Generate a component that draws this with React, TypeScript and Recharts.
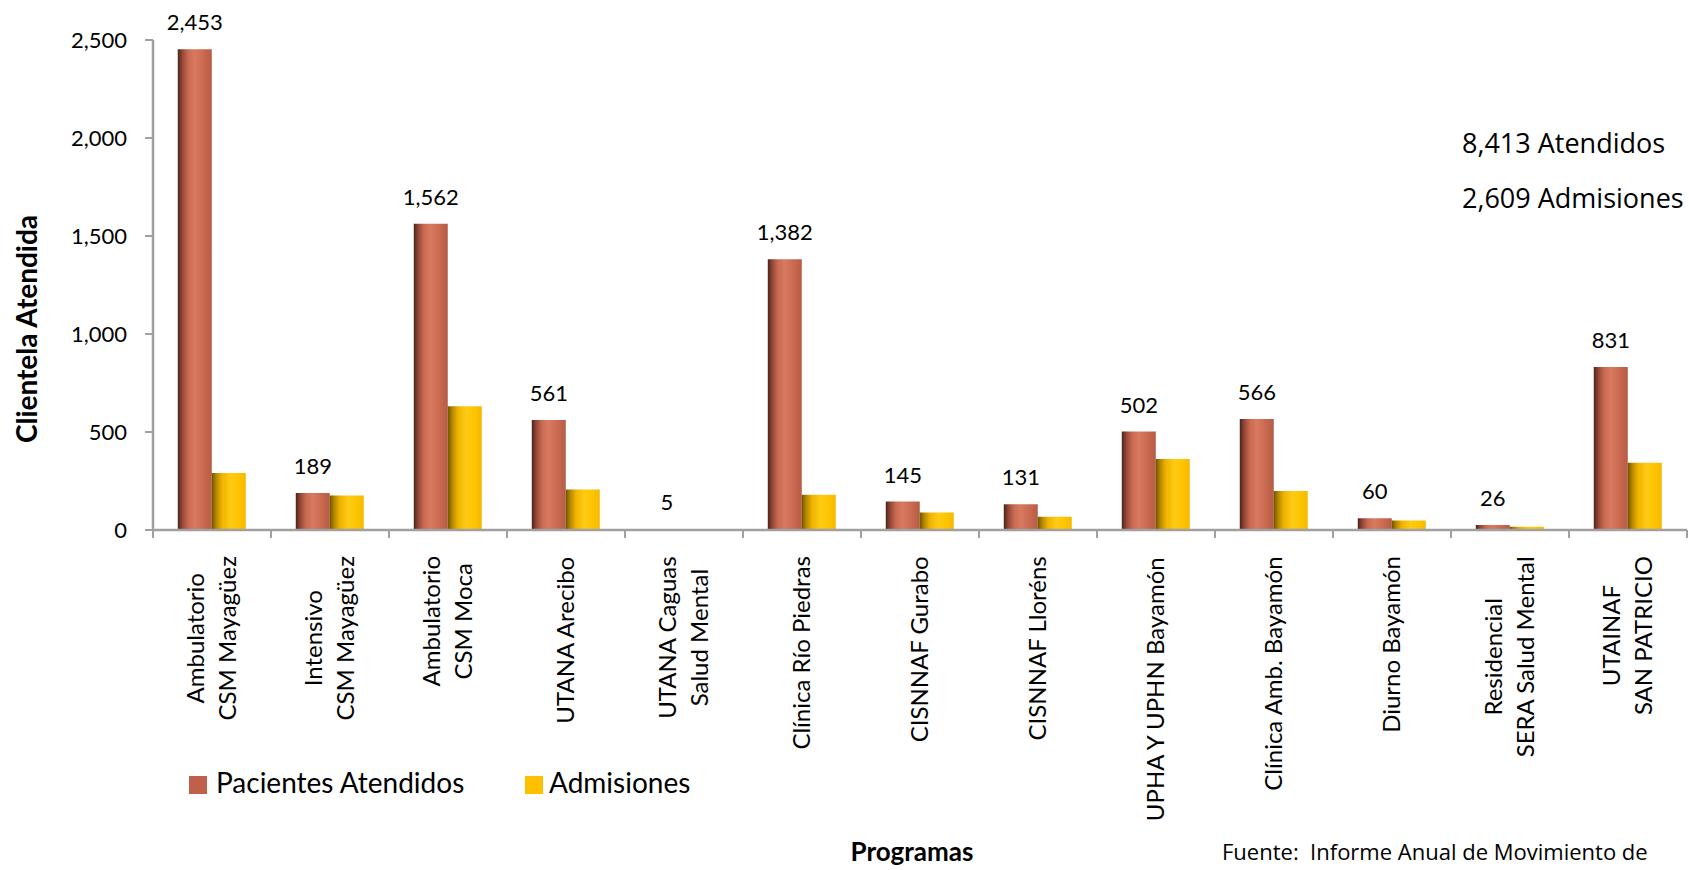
import React from "react";
import { BarChart, Bar, XAxis, YAxis, LabelList } from "recharts";

const categories = [
  "Ambulatorio\nCSM Mayagüez",
  "Intensivo\nCSM Mayagüez",
  "Ambulatorio\nCSM Moca",
  "UTANA Arecibo",
  "UTANA Caguas\nSalud Mental",
  "Clínica Río Piedras",
  "CISNNAF Gurabo",
  "CISNNAF Lloréns",
  "UPHA Y UPHN Bayamón",
  "Clínica Amb. Bayamón",
  "Diurno Bayamón",
  "Residencial\nSERA Salud Mental",
  "UTAINAF\nSAN PATRICIO",
];

const pacientes = [2453, 189, 1562, 561, 5, 1382, 145, 131, 502, 566, 60, 26, 831];
const admisiones = [291, 176, 632, 206, 0, 180, 89, 67, 362, 199, 48, 16, 343];
const yTicks = [0, 500, 1000, 1500, 2000, 2500];

const seriesNames = ["Pacientes Atendidos", "Admisiones"];
const totals = ["8,413 Atendidos", "2,609 Admisiones"];

const data = categories.map((name, i) => ({
  name,
  pacientes: pacientes[i],
  admisiones: admisiones[i],
}));

const W = 1689;
const H = 870;
const AXIS = "#a0a0a0";
const PAC = "#c0604a";
const ADM = "#ffc000";
const LABEL_FONT = 24;

let ctx: CanvasRenderingContext2D | null = null;
const measure = (s: string) => {
  if (!ctx) ctx = document.createElement("canvas").getContext("2d");
  if (!ctx) return s.length * LABEL_FONT * 0.5;
  ctx.font = `${LABEL_FONT}px Lato`;
  return ctx.measureText(s).width;
};

const fmt = (v: number) => v.toLocaleString("en-US");

const CategoryTick = ({ x, y, payload, index }: any) => {
  const lines = String(payload.value).split("\n");
  const half = payload.offset || (W - 155) / categories.length / 2;
  const maxW = Math.max(...lines.map(measure));
  const cy = y + 26 + maxW / 2;
  const last = index === categories.length - 1;
  return (
    <g>
      <line x1={x - half} x2={x - half} y1={y} y2={y + 8} stroke={AXIS} strokeWidth={2} />
      {last && <line x1={x + half} x2={x + half} y1={y} y2={y + 8} stroke={AXIS} strokeWidth={2} />}
      {lines.map((ln, i) => {
        const bx = x + (i - (lines.length - 1) / 2) * 32 + 8;
        return (
          <text
            key={i}
            x={bx}
            y={cy}
            transform={`rotate(-90 ${bx} ${cy})`}
            textAnchor="middle"
            fontFamily="Lato"
            fontSize={LABEL_FONT}
            fill="#000"
          >
            {ln}
          </text>
        );
      })}
    </g>
  );
};

const ValueLabel = ({ x, y, width, value }: any) => (
  <text x={x + width / 2} y={y - 19} textAnchor="middle" fontFamily="Lato" fontSize={22} fill="#000">
    {fmt(value)}
  </text>
);

export default function App() {
  return (
    <div style={{ position: "absolute", left: 0, top: 0, width: W, height: H, background: "#fff" }}>
      <BarChart
        width={W}
        height={H}
        data={data}
        margin={{ top: 40, right: 2, bottom: 0, left: 0 }}
        barCategoryGap="21%"
        barGap={0}
      >
        <defs>
          <linearGradient id="gPac" x1="0" y1="0" x2="1" y2="0">
            <stop offset="0%" stopColor="#4b2219" />
            <stop offset="12%" stopColor="#8f4434" />
            <stop offset="30%" stopColor="#c96a52" />
            <stop offset="50%" stopColor="#d87a60" />
            <stop offset="78%" stopColor="#c8684f" />
            <stop offset="100%" stopColor="#b55c46" />
          </linearGradient>
          <linearGradient id="gAdm" x1="0" y1="0" x2="1" y2="0">
            <stop offset="0%" stopColor="#6e5200" />
            <stop offset="12%" stopColor="#b08400" />
            <stop offset="30%" stopColor="#f0b400" />
            <stop offset="55%" stopColor="#ffcb14" />
            <stop offset="80%" stopColor="#ffc400" />
            <stop offset="100%" stopColor="#f5b800" />
          </linearGradient>
        </defs>
        <XAxis
          dataKey="name"
          interval={0}
          height={H - 530}
          tickSize={0}
          tickMargin={0}
          tickLine={false}
          axisLine={{ stroke: AXIS, strokeWidth: 2.5 }}
          tick={<CategoryTick />}
        />
        <YAxis
          width={153}
          domain={[0, 2500]}
          ticks={yTicks}
          interval={0}
          tickSize={8}
          tickMargin={18}
          tickFormatter={fmt}
          axisLine={{ stroke: AXIS, strokeWidth: 2.5 }}
          tickLine={{ stroke: AXIS, strokeWidth: 2 }}
          tick={{ fill: "#000", fontFamily: "Lato", fontSize: 22 }}
        />
        <Bar dataKey="pacientes" name={seriesNames[0]} fill="url(#gPac)" isAnimationActive={false}>
          <LabelList dataKey="pacientes" content={<ValueLabel />} />
        </Bar>
        <Bar dataKey="admisiones" name={seriesNames[1]} fill="url(#gAdm)" isAnimationActive={false} />
      </BarChart>

      {/* titles, totals and legend drawn on top */}
      <svg
        width={W}
        height={H}
        style={{ position: "absolute", left: 0, top: 0, pointerEvents: "none" }}
      >
        <text
          x={37}
          y={329}
          transform="rotate(-90 37 329)"
          textAnchor="middle"
          fontFamily="Lato"
          fontWeight="bold"
          fontSize={28}
          fill="#000"
        >
          Clientela Atendida
        </text>
        <text x={912} y={861} textAnchor="middle" fontFamily="Lato" fontWeight="bold" fontSize={26} fill="#000">
          Programas
        </text>
        <text x={1462} y={153} fontFamily="Open Sans" fontSize={27} fill="#000">
          {totals[0]}
        </text>
        <text x={1462} y={208} fontFamily="Open Sans" fontSize={27} fill="#000">
          {totals[1]}
        </text>
        <text x={1222} y={860} fontFamily="Open Sans" fontSize={22} fill="#000" style={{ whiteSpace: "pre" }}>
          {"Fuente:  Informe Anual de Movimiento de"}
        </text>

        <rect x={189} y={776} width={18} height={18} fill={PAC} />
        <text x={216} y={793} fontFamily="Lato" fontSize={28} fill="#000">
          {seriesNames[0]}
        </text>
        <rect x={525} y={776} width={18} height={18} fill={ADM} />
        <text x={549} y={793} fontFamily="Lato" fontSize={28} fill="#000">
          {seriesNames[1]}
        </text>
      </svg>
    </div>
  );
}
